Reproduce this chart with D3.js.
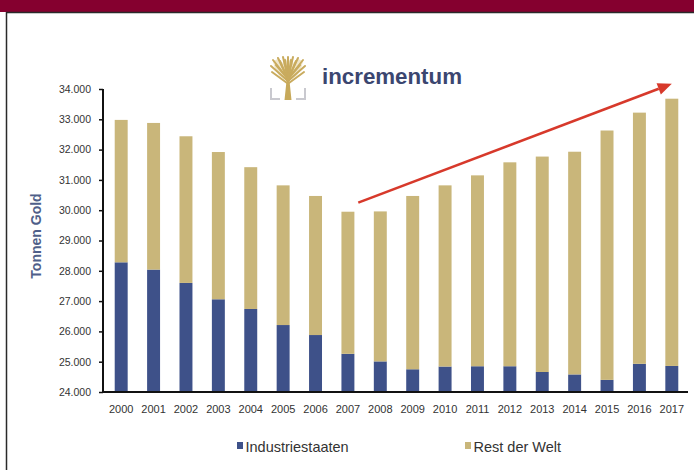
<!DOCTYPE html>
<html>
<head>
<meta charset="utf-8">
<script src="https://cdn.jsdelivr.net/npm/d3@7"></script>
<style>
  html, body { margin: 0; padding: 0; background: #fff; }
  svg { display: block; }
</style>
</head>
<body>
<svg id="chart" width="694" height="470"></svg>
<script>
// Goldbestände (Tonnen): Industriestaaten vs. Rest der Welt, 2000–2017
const years = ["2000","2001","2002","2003","2004","2005","2006","2007","2008",
               "2009","2010","2011","2012","2013","2014","2015","2016","2017"];
const industriestaaten = [28280, 28040, 27600, 27060, 26740, 26210, 25880, 25260, 25010,
                          24750, 24840, 24850, 24850, 24660, 24580, 24400, 24930, 24860];
const gesamt = [32980, 32880, 32440, 31920, 31420, 30820, 30470, 29950, 29960,
                30470, 30820, 31150, 31580, 31770, 31930, 32630, 33220, 33680];
const yTicks = [24000, 25000, 26000, 27000, 28000, 29000, 30000, 31000, 32000, 33000, 34000];
const seriesNames = ["Industriestaaten", "Rest der Welt"];

const navy = "#3e5189";
const gold = "#c9b67a";

const svg = d3.select("#chart");

// Frame: maroon header band and thin dark border
svg.append("rect").attr("x", 0).attr("y", 0).attr("width", 694).attr("height", 12).attr("fill", "#85002f");
svg.append("line").attr("x1", 6).attr("x2", 694).attr("y1", 12.5).attr("y2", 12.5)
  .attr("stroke", "#2a2a2a").attr("stroke-width", 1.5);
svg.append("line").attr("x1", 6.5).attr("x2", 6.5).attr("y1", 12).attr("y2", 470)
  .attr("stroke", "#2a2a2a").attr("stroke-width", 1.5);

// Scales
const x = d3.scaleBand().domain(years).range([105, 688]).paddingInner(0.6).paddingOuter(0.3);
const y = d3.scaleLinear().domain([24000, 34000]).range([392, 89]);

// Stacked data
const rows = years.map((yr, i) => ({ year: yr, ind: industriestaaten[i], rest: gesamt[i] - industriestaaten[i] }));
const stack = d3.stack().keys(["ind", "rest"]).value((d, k) => k === "ind" ? d.ind - 24000 : d.rest);
const layers = stack(rows);
const colors = [navy, gold];

svg.append("g").selectAll("g").data(layers).join("g")
  .attr("fill", (d, i) => colors[i])
  .selectAll("rect").data(d => d).join("rect")
  .attr("x", d => x(d.data.year))
  .attr("width", x.bandwidth())
  .attr("y", d => y(24000 + d[1]))
  .attr("height", d => y(24000 + d[0]) - y(24000 + d[1]));

// Y axis
const yAxis = d3.axisLeft(y).tickValues(yTicks).tickSize(4).tickPadding(8)
  .tickFormat(v => d3.format(",.0f")(v).replace(/,/g, "."));
const gy = svg.append("g").attr("transform", "translate(103,0)").call(yAxis);
gy.select(".domain").attr("stroke", "#111").attr("stroke-width", 2).attr("d", "M0,89V392");
gy.selectAll(".tick line").attr("stroke", "#111").attr("stroke-width", 1.5);
gy.selectAll("text").attr("font-family", "Liberation Sans, Arial, sans-serif")
  .attr("font-size", 10.5).attr("fill", "#333");

// X axis
const xAxis = d3.axisBottom(x).tickSize(0).tickPadding(13);
const gx = svg.append("g").attr("transform", "translate(0,392)").call(xAxis);
gx.select(".domain").attr("stroke", "#111").attr("stroke-width", 2.2).attr("d", "M102,0H688");
gx.selectAll("text").attr("font-family", "Liberation Sans, Arial, sans-serif")
  .attr("font-size", 11).attr("fill", "#333");

// Y axis title
svg.append("text")
  .attr("transform", "translate(41,236) rotate(-90)")
  .attr("text-anchor", "middle")
  .attr("font-family", "Liberation Sans, Arial, sans-serif")
  .attr("font-weight", "bold").attr("font-size", 14)
  .attr("fill", "#4f5f89")
  .text("Tonnen Gold");

// Trend arrow from the 2007/08 low to the 2017 high
const step = x.step();
const ax1 = x("2007") + x.bandwidth() / 2 + step * 0.32, ay1 = y(30250);
const ax2 = x("2017") + x.bandwidth() / 2, ay2 = y(34170);
const ang = Math.atan2(ay2 - ay1, ax2 - ax1);
const headLen = 14, headW = 6;
const bx = ax2 - headLen * Math.cos(ang), by = ay2 - headLen * Math.sin(ang);
svg.append("line").attr("x1", ax1).attr("y1", ay1).attr("x2", bx).attr("y2", by)
  .attr("stroke", "#d7392b").attr("stroke-width", 2.6);
svg.append("path")
  .attr("d", `M${ax2},${ay2}L${bx - headW * Math.sin(ang)},${by + headW * Math.cos(ang)}L${bx + headW * Math.sin(ang)},${by - headW * Math.cos(ang)}Z`)
  .attr("fill", "#d7392b");

// Logo: tree mark and wordmark
const logo = svg.append("g").attr("transform", "translate(270,57)");
// grey base brackets
logo.append("path").attr("d", "M1,31V42H10").attr("fill", "none").attr("stroke", "#c9c9cf").attr("stroke-width", 2);
logo.append("path").attr("d", "M35,31V42H26").attr("fill", "none").attr("stroke", "#c9c9cf").attr("stroke-width", 2);
// crown silhouette behind the branches
logo.append("path")
  .attr("d", "M18,24C12,22 5,17 3,4L8,2L13,6L15,1L18,5L21,1L23,6L28,2L33,4C31,17 24,22 18,24Z")
  .attr("fill", "#e6d6a8").attr("opacity", 0.6);
// trunk
logo.append("path").attr("d", "M14.5,43L16.5,24L12,19L17,21.5L18,13L19,21.5L24,19L19.5,24L21.5,43Z").attr("fill", "#c7a95a");
// branches
const branches = [[18,22,3,3],[18,22,8,1],[18,22,13,0],[18,22,18,0],[18,22,23,0],[18,22,28,1],[18,22,33,3],
                  [18,24,1,9],[18,24,35,9],[17,26,2,15],[19,26,34,15],[18,22,6,8],[18,22,30,8],
                  [18,23,10,4],[18,23,26,4],[18,22,15,3],[18,22,21,3]];
logo.selectAll("line.br").data(branches).join("line")
  .attr("x1", d => d[0]).attr("y1", d => d[1]).attr("x2", d => d[2]).attr("y2", d => d[3])
  .attr("stroke", "#c9ab5e").attr("stroke-width", 2).attr("stroke-linecap", "round");
svg.append("text").attr("x", 322).attr("y", 84)
  .attr("font-family", "Liberation Sans, Arial, sans-serif")
  .attr("font-weight", "bold").attr("font-size", 22)
  .attr("textLength", 140).attr("lengthAdjust", "spacingAndGlyphs")
  .attr("fill", "#3b4670")
  .text("incrementum");

// Legend
const legendX = [237, 465];
const lg = svg.append("g");
seriesNames.forEach((name, i) => {
  lg.append("rect").attr("x", legendX[i]).attr("y", 442).attr("width", 6).attr("height", 7).attr("fill", colors[i]);
  lg.append("text").attr("x", legendX[i] + 8.5).attr("y", 452)
    .attr("font-family", "Liberation Sans, Arial, sans-serif")
    .attr("font-size", 14.5).attr("fill", "#333")
    .text(name);
});
</script>
</body>
</html>
